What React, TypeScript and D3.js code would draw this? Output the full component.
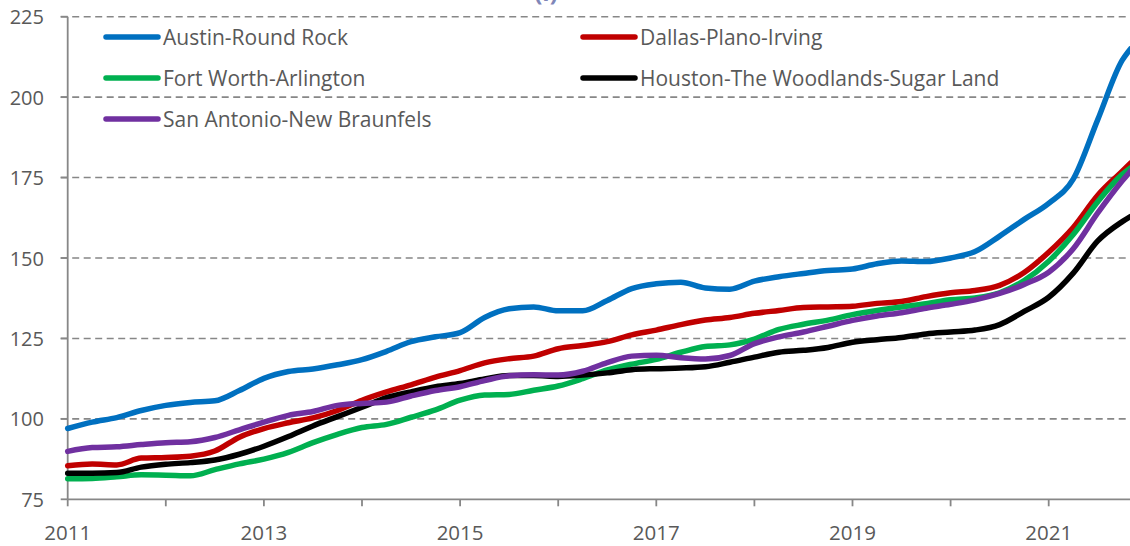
import React from "react";
import * as d3 from "d3";

const dates = [
  "2011-01","2011-04","2011-07","2011-10",
  "2012-01","2012-04","2012-07","2012-10",
  "2013-01","2013-04","2013-07","2013-10",
  "2014-01","2014-04","2014-07","2014-10",
  "2015-01","2015-04","2015-07","2015-10",
  "2016-01","2016-04","2016-07","2016-10",
  "2017-01","2017-04","2017-07","2017-10",
  "2018-01","2018-04","2018-07","2018-10",
  "2019-01","2019-04","2019-07","2019-10",
  "2020-01","2020-04","2020-07","2020-10",
  "2021-01","2021-04","2021-07","2021-10","2021-11",
];

const austin = [97.0, 99.0, 100.4, 102.6, 104.2, 105.1, 105.6, 108.8, 112.6, 114.7, 115.5, 116.8, 118.4, 121.0, 124.0, 125.5, 126.8, 131.5, 134.2, 134.8, 133.6, 133.6, 136.8, 140.5, 142.0, 142.5, 140.7, 140.3, 142.8, 144.2, 145.2, 146.1, 146.6, 148.2, 149.1, 148.9, 150.0, 152.0, 156.8, 162.0, 167.0, 174.5, 193.0, 211.5, 215.0];
const dallas = [85.4, 86.0, 85.7, 87.8, 88.0, 88.4, 90.0, 94.3, 97.0, 98.8, 100.3, 102.6, 105.8, 108.4, 110.6, 113.0, 115.0, 117.4, 118.7, 119.5, 121.8, 122.8, 124.0, 126.1, 127.6, 129.3, 130.7, 131.5, 132.8, 133.7, 134.6, 134.8, 135.0, 135.9, 136.5, 138.0, 139.2, 139.9, 141.5, 145.5, 151.8, 159.5, 169.5, 177.0, 179.5];
const fortWorth = [81.4, 81.5, 82.0, 82.6, 82.5, 82.3, 84.2, 86.0, 87.5, 89.6, 92.6, 95.2, 97.3, 98.3, 100.5, 102.8, 105.8, 107.4, 107.6, 108.9, 110.2, 112.5, 115.2, 117.0, 118.5, 120.7, 122.5, 123.0, 124.8, 127.8, 129.4, 130.7, 132.4, 133.7, 134.8, 135.8, 137.0, 137.6, 139.2, 143.0, 149.0, 157.3, 167.5, 176.0, 178.0];
const houston = [83.1, 83.1, 83.3, 85.0, 85.9, 86.4, 87.2, 89.0, 91.5, 94.5, 97.8, 100.7, 103.6, 106.6, 108.4, 110.0, 111.0, 112.4, 113.5, 113.5, 113.2, 113.6, 114.3, 115.3, 115.6, 115.8, 116.2, 117.6, 119.2, 120.7, 121.3, 122.2, 123.8, 124.6, 125.3, 126.4, 127.0, 127.6, 129.3, 133.4, 137.8, 145.3, 155.3, 161.3, 162.9];
const sanAntonio = [89.9, 91.1, 91.3, 92.0, 92.6, 92.9, 94.2, 96.6, 99.0, 101.1, 102.3, 104.2, 104.8, 105.2, 107.1, 108.8, 110.0, 111.9, 113.4, 113.7, 113.6, 114.8, 117.5, 119.5, 119.8, 119.0, 118.6, 119.7, 123.4, 125.5, 127.0, 128.8, 130.6, 132.0, 133.0, 134.4, 135.6, 137.0, 139.0, 141.8, 145.6, 152.9, 164.0, 174.0, 177.0];

const seriesNames = [
  "Austin-Round Rock",
  "Dallas-Plano-Irving",
  "Fort Worth-Arlington",
  "Houston-The Woodlands-Sugar Land",
  "San Antonio-New Braunfels",
];
const seriesValues = [austin, dallas, fortWorth, houston, sanAntonio];
const seriesColors = ["#0070C0", "#C00000", "#00B050", "#000000", "#7030A0"];

const yTicks = [75, 100, 125, 150, 175, 200, 225];
const xTickYears = [2011, 2012, 2013, 2014, 2015, 2016, 2017, 2018, 2019, 2020, 2021];
const xLabelYears = [2011, 2013, 2015, 2017, 2019, 2021];
const titleText = "(i)";

const W = 1130;
const H = 546;
const FONT = "'Open Sans', 'Noto Sans', sans-serif";
const AXIS = "#878787";
const TEXT = "#595959";

function toYear(s: string): number {
  const [yy, mm] = s.split("-").map(Number);
  return yy + (mm - 1) / 12;
}

export default function App() {
  const x = d3.scaleLinear().domain([2011, 2021 + 10 / 12]).range([67.7, 67.7 + (10 + 10 / 12) * 98.1]);
  const y = d3.scaleLinear().domain([75, 225]).range([499.3, 16.7]);
  const xs = dates.map(toYear);

  const line = d3
    .line<number>()
    .x((_, i) => x(xs[i]))
    .y((d) => y(d))
    .curve(d3.curveMonotoneX);

  const x0 = x(2011);
  const legendCols = [106, 583];
  const legendRows = [37, 78, 119];

  return (
    <svg
      width={W}
      height={H}
      style={{ position: "absolute", left: 0, top: 0, display: "block", background: "#fff" }}
      fontFamily={FONT}
    >
      <text x={546} y={1} textAnchor="middle" fontSize={24} fontWeight="bold" fill="#7F86B8">
        {titleText}
      </text>

      {yTicks.filter((t) => t !== 75).map((t) => (
        <line
          key={"g" + t}
          x1={x0 - 7}
          x2={W}
          y1={y(t)}
          y2={y(t)}
          stroke={AXIS}
          strokeWidth={1.6}
          strokeDasharray="7,4.5"
        />
      ))}

      <line x1={x0} x2={x0} y1={y(225)} y2={y(75)} stroke={AXIS} strokeWidth={1.8} />
      {yTicks.map((t) => (
        <g key={"yt" + t}>
          <line x1={x0 - 7} x2={x0} y1={y(t)} y2={y(t)} stroke={AXIS} strokeWidth={1.8} />
          <text x={44} y={y(t)} textAnchor="end" dominantBaseline="central" fontSize={20} fill={TEXT}>
            {t}
          </text>
        </g>
      ))}

      <line x1={x0} x2={W} y1={y(75)} y2={y(75)} stroke={AXIS} strokeWidth={1.8} />
      {xTickYears.map((yr) => (
        <line key={"xt" + yr} x1={x(yr)} x2={x(yr)} y1={y(75)} y2={y(75) + 7} stroke={AXIS} strokeWidth={1.8} />
      ))}
      {xLabelYears.map((yr) => (
        <text key={"xl" + yr} x={x(yr)} y={539.5} textAnchor="middle" fontSize={20.5} fill={TEXT}>
          {yr}
        </text>
      ))}

      {seriesValues.map((vals, i) => (
        <path
          key={"s" + i}
          d={line(vals) || ""}
          fill="none"
          stroke={seriesColors[i]}
          strokeWidth={5.5}
          strokeLinejoin="round"
          strokeLinecap="round"
        />
      ))}

      {seriesNames.map((name, i) => {
        const lx = legendCols[i % 2];
        const ly = legendRows[Math.floor(i / 2)];
        return (
          <g key={"lg" + i}>
            <line x1={lx} x2={lx + 52} y1={ly} y2={ly} stroke={seriesColors[i]} strokeWidth={5.5} strokeLinecap="round" />
            <text x={lx + 57} y={ly} dominantBaseline="central" fontSize={21} fill={TEXT}>
              {name}
            </text>
          </g>
        );
      })}
    </svg>
  );
}
